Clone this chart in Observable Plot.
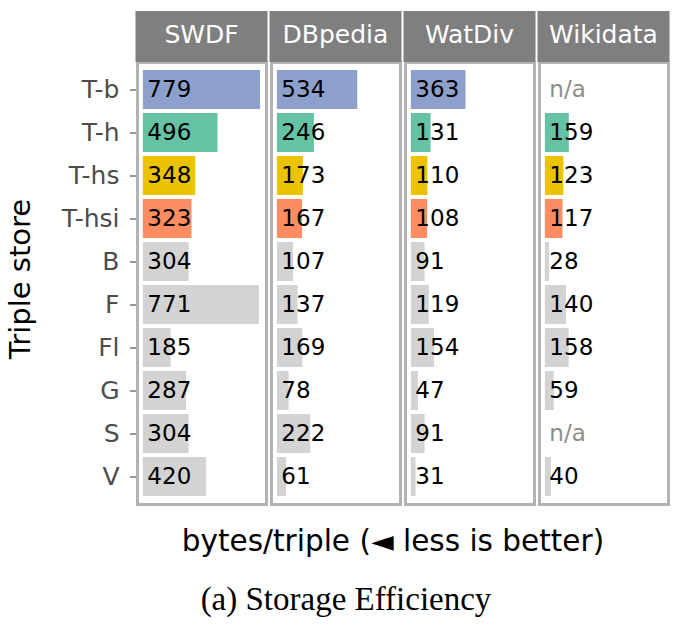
<!DOCTYPE html>
<html><head><meta charset="utf-8">
<script src="https://cdn.jsdelivr.net/npm/d3@7"></script>
<script src="https://cdn.jsdelivr.net/npm/@observablehq/plot@0.6"></script>
<style>
body{margin:0;background:#fff;}
#wrap{position:relative;width:680px;height:632px;background:#fff;}
.xlab{position:absolute;left:0;width:786px;top:524px;text-align:center;font-family:"DejaVu Sans";font-size:29.5px;color:#000;white-space:nowrap;}
.cap{position:absolute;left:0;width:692px;top:581px;text-align:center;font-family:"Liberation Serif","Times New Roman",serif;font-size:33px;color:#000;white-space:nowrap;}
</style></head><body><div id="wrap"></div>
<script>
const stores = ["T-b","T-h","T-hs","T-hsi","B","F","Fl","G","S","V"];
const datasets = ["SWDF","DBpedia","WatDiv","Wikidata"];
const swdf = [779,496,348,323,304,771,185,287,304,420];
const dbpedia = [534,246,173,167,107,137,169,78,222,61];
const watdiv = [363,131,110,108,91,119,154,47,91,31];
const wikidata = [null,159,123,117,28,140,158,59,null,40];
const storeColors = ["#8DA0CB","#66C2A5","#EBC300","#FC8D62","#D3D3D3","#D3D3D3","#D3D3D3","#D3D3D3","#D3D3D3","#D3D3D3"];
const series = [swdf, dbpedia, watdiv, wikidata];

const data = [];
datasets.forEach((ds, i) => stores.forEach((s, j) => data.push({dataset: ds, store: s, value: series[i][j]})));

const FONT = "DejaVu Sans";
const plot = Plot.plot({
  width: 680, height: 515,
  marginLeft: 136, marginRight: 11, marginTop: 62, marginBottom: 11,
  style: {fontFamily: FONT, fontSize: "25px", color: "#4d4d4d", background: "white"},
  fx: {domain: datasets, paddingInner: 0.035, paddingOuter: 0, label: null, axis: null},
  x: {domain: [-39, 818], axis: null},
  y: {domain: stores, paddingInner: 0.1, paddingOuter: 0.15, label: null, tickSize: 7, tickPadding: 11},
  color: {domain: stores, range: storeColors},
  marks: [
    Plot.barX(data.filter(d => d.value != null), {fx: "dataset", y: "store", x: "value", fill: "store"}),
    Plot.text(data, {fx: "dataset", y: "store", x: 0, text: d => d.value == null ? "n/a" : String(d.value),
      fill: d => d.value == null ? "#8c8c8c" : "#000", textAnchor: "start", dx: 4, fontSize: 23}),
    Plot.frame({stroke: "#b3b3b3", strokeWidth: 3})
  ]
});

const svg = d3.select(plot);
// darker tick marks
svg.selectAll("[aria-label='y-axis tick'] path, [aria-label='y-axis tick']").attr("stroke", "#333");

// facet strips
const fxs = plot.scale("fx");
const g = svg.append("g");
datasets.forEach(ds => {
  const x0 = fxs.apply(ds), bw = fxs.bandwidth;
  g.append("rect").attr("x", x0 - 1.5).attr("y", 11).attr("width", bw + 3).attr("height", 51).attr("fill", "#7f7f7f");
  g.append("text").attr("x", x0 + bw / 2).attr("y", 36).attr("text-anchor", "middle").attr("dominant-baseline", "middle")
    .attr("fill", "white").attr("font-family", FONT).attr("font-size", 25).text(ds);
});
// y axis title
svg.append("text").attr("transform", "translate(22,279) rotate(-90)").attr("text-anchor", "middle")
  .attr("dominant-baseline", "middle").attr("font-family", FONT).attr("font-size", 29).attr("fill", "#000").text("Triple store");

const wrap = document.getElementById("wrap");
wrap.appendChild(plot);
const xl = document.createElement("div"); xl.className = "xlab"; xl.textContent = "bytes/triple (◄ less is better)"; wrap.appendChild(xl);
const cp = document.createElement("div"); cp.className = "cap"; cp.textContent = "(a) Storage Efficiency"; wrap.appendChild(cp);
</script></body></html>
